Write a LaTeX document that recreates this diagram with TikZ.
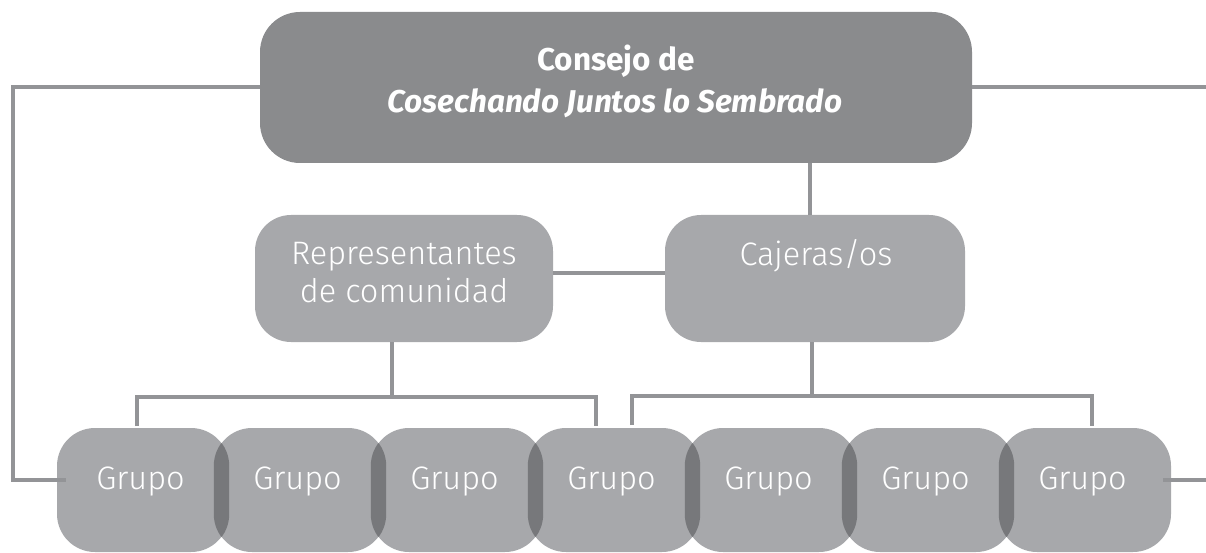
\documentclass[tikz,border=0pt]{standalone}
\usepackage{fontspec}
\setmainfont{Fira Sans}
\newfontfamily\lightfont{Fira Sans Light}
\definecolor{topgray}{HTML}{8A8B8D}
\definecolor{boxgray}{HTML}{A7A8AB}
\definecolor{lensgray}{HTML}{77787B}
\definecolor{linegray}{HTML}{939497}
\tikzset{
  topbox/.style={fill=topgray, draw=none, rounded corners=40pt, minimum width=712pt, minimum height=151pt, inner sep=0pt},
  midbox/.style={fill=boxgray, draw=none, rounded corners=36pt, minimum width=298pt, minimum height=127pt, inner sep=0pt},
  grpbox/.style={fill=boxgray, draw=none, rounded corners=38pt, minimum width=172pt, minimum height=124pt, inner sep=0pt},
  lbl/.style={text=white, font=\lightfont\fontsize{32.5}{38}\selectfont, align=center, inner sep=0pt},
  toplbl/.style={text=white, align=center, inner sep=0pt},
  conn/.style={draw=linegray, line width=3.5pt},
}
\begin{document}
\begin{tikzpicture}[x=1pt,y=-1pt]
\useasboundingbox (0,0) rectangle (1206,553);
% top box
\node[topbox] (top) at (616,87.5) {};
\node[toplbl, font=\fontsize{31.5}{37}\selectfont\bfseries] (t1) at (616,61) {Consejo de};
\node[toplbl, font=\fontsize{31.5}{37}\selectfont\bfseries\itshape] (t2) at (615,103) {Cosechando Juntos lo Sembrado};
% middle boxes
\node[midbox] (rep) at (404,278.5) {};
\node[midbox, minimum width=300pt] (caj) at (815,278.5) {};
\node[lbl] (rept) at (404,273) {Representantes\\de comunidad};
\node[lbl] (cajt) at (816,256) {Cajeras/os};
% group boxes
\foreach \i in {1,...,7}{
  \node[grpbox] (g\i) at ({143+157*(\i-1)},490) {};
}
% overlaps
\foreach \i/\j in {1/2,2/3,3/4,4/5,5/6,6/7}{
  \begin{scope}
    \clip[rounded corners=38pt] (g\i.south west) rectangle (g\i.north east);
    \fill[lensgray, rounded corners=38pt] (g\j.south west) rectangle (g\j.north east);
  \end{scope}
}
\foreach \i in {1,...,7}{
  \node[lbl] (gt\i) at ({140.5+157*(\i-1)},482) {Grupo};
}
% coordinates
\coordinate (lc1) at (13,87);
\coordinate (lc2) at (13,480);
\coordinate (lc3) at (66,480);
\coordinate (rc1) at (1206,87);
\coordinate (rc2) at (1163,480);
\coordinate (rc3) at (1206,480);
\coordinate (tc1) at (810,163);
\coordinate (tc2) at (810,215);
\coordinate (rb1) at (392,342);
\coordinate (rb2) at (392,397);
\coordinate (rb3) at (137,397);
\coordinate (rb4) at (137,426);
\coordinate (rb5) at (596,397);
\coordinate (rb6) at (596,426);
\coordinate (cb1) at (812,342);
\coordinate (cb2) at (812,396);
\coordinate (cb3) at (632,396);
\coordinate (cb4) at (632,425);
\coordinate (cb5) at (1092,396);
\coordinate (cb6) at (1092,426);
% connectors
\draw[conn] (top.west |- lc1) -- (lc1) -- (lc2) -- (lc3);
\draw[conn] (top.east |- rc1) -- (rc1);
\draw[conn] (rc2) -- (rc3);
\draw[conn] (tc1) -- (tc2);
\draw[conn] (rep.east |- 0,273) -- (caj.west |- 0,273);
\draw[conn] (rb1) -- (rb2);
\draw[conn] (rb4) -- (rb3) -- (rb5) -- (rb6);
\draw[conn] (cb1) -- (cb2);
\draw[conn] (cb4) -- (cb3) -- (cb5) -- (cb6);
\end{tikzpicture}
\end{document}
